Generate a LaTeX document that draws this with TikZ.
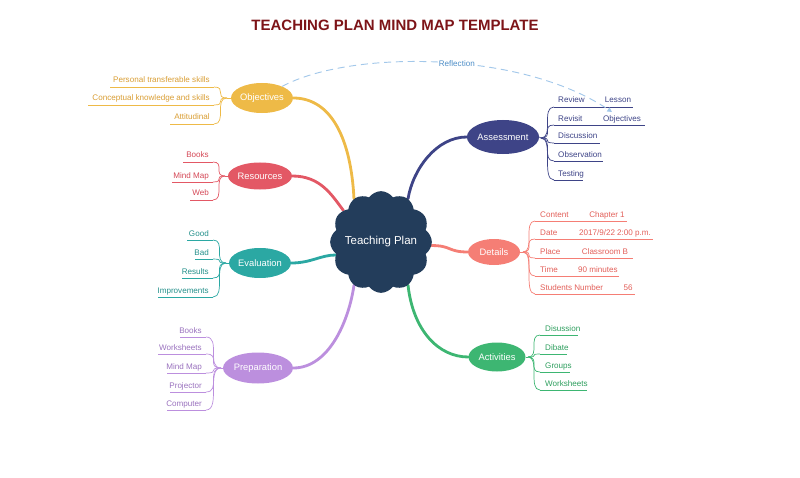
\documentclass[tikz,border=0pt]{standalone}
\usepackage{fontspec}
\setmainfont{Liberation Sans}
\usetikzlibrary{shapes.geometric,shapes.symbols,arrows.meta,backgrounds}

\definecolor{titleC}{HTML}{7D1418}
\definecolor{cloudC}{HTML}{233D5B}
\definecolor{objC}{HTML}{EEBA47}
\definecolor{objT}{HTML}{D99E35}
\definecolor{resC}{HTML}{E35865}
\definecolor{resT}{HTML}{D44856}
\definecolor{evaC}{HTML}{2BA8A3}
\definecolor{evaT}{HTML}{25908B}
\definecolor{preC}{HTML}{BC8FDE}
\definecolor{preT}{HTML}{9A72BE}
\definecolor{assC}{HTML}{3E4487}
\definecolor{detC}{HTML}{F57E75}
\definecolor{detT}{HTML}{E2605A}
\definecolor{actC}{HTML}{3DB672}
\definecolor{actT}{HTML}{2E9E5E}
\definecolor{refC}{HTML}{A3C8EA}
\definecolor{refT}{HTML}{4F8FC8}

\tikzset{
    branch/.style = {ellipse, fill=#1, text=white, inner sep=0pt, font=\fontsize{8}{9}\selectfont},
    leaf/.style = {inner sep=0pt, font=\fontsize{6.9}{8}\selectfont},
    twig/.style = {line width=0.6pt},
    trunk/.style = {line width=2.4pt, line cap=round}
}

\begin{document}
\begin{tikzpicture}[x=0.03cm, y=-0.03cm, line join=round]
    \useasboundingbox (0,0) rectangle (800,478);

    \node[font=\bfseries\fontsize{12.8}{14}\selectfont, text=titleC] (title) at (395,25) {TEACHING PLAN MIND MAP TEMPLATE};

    % centre and main branches
    \node[cloud, cloud puffs=12, cloud puff arc=110, aspect=1, fill=cloudC, minimum size=3.05cm,
          inner sep=0pt, text=white, font=\fontsize{9.8}{11}\selectfont] (tp) at (381,242) {\makebox[0pt]{Teaching Plan}};

    \node[branch=objC, minimum width=1.86cm, minimum height=0.9cm] (obj) at (262,98) {Objectives};
    \node[branch=resC, minimum width=1.92cm, minimum height=0.81cm] (res) at (260,176) {Resources};
    \node[branch=evaC, minimum width=1.86cm, minimum height=0.9cm] (eva) at (260,263) {Evaluation};
    \node[branch=preC, minimum width=2.1cm, minimum height=0.93cm] (pre) at (258,368) {Preparation};
    \node[branch=assC, minimum width=2.07cm, minimum height=1.02cm] (ass) at (503,137) {Assessment};
    \node[branch=detC, minimum width=1.56cm, minimum height=0.78cm] (det) at (494,252) {Details};
    \node[branch=actC, minimum width=1.71cm, minimum height=0.87cm] (act) at (497,357) {Activities};

    \begin{scope}[on background layer]
        \draw[trunk, objC] (obj.east) .. controls +(38,0) and +(-3,-60) .. (tp.122);
        \draw[trunk, resC] (res.east) .. controls +(28,0) and +(-12,-16) .. (tp.140);
        \draw[trunk, evaC] (eva.east) .. controls +(20,0) and +(-15,0) .. (tp.196);
        \draw[trunk, preC] (pre.east) .. controls +(36,0) and +(-5,35) .. (tp.238);
        \draw[trunk, assC] (ass.west) .. controls +(-30,0) and +(5,-30) .. (tp.58);
        \draw[trunk, detC] (tp.356) .. controls +(20,0) and +(-20,0) .. (det.west);
        \draw[trunk, actC] (tp.302) .. controls +(5,45) and +(-30,0) .. (act.west);
    \end{scope}

    % Objectives
    \coordinate (objF) at (227,98);
    \draw[twig, objC] (obj.west) -- (objF);
    \foreach \n/\y/\x/\t in {o1/87/110/Personal transferable skills, o2/105/88/Conceptual knowledge and skills, o3/124/170/Attitudinal}{
        \coordinate (\n a) at (214,\y);
        \coordinate (\n b) at (\x,\y);
        \node[leaf, text=objT, anchor=base east] (\n) at (210,\y-4) {\t};
        \draw[twig, objC] (\n b) -- (\n a);
        \draw[twig, objC] (objF) .. controls +(-13,0) and +(13,0) .. (\n a);
    }

    % Resources
    \coordinate (resF) at (225,176);
    \draw[twig, resC] (res.west) -- (resF);
    \foreach \n/\y/\x/\t in {r1/162/183/Books, r2/182/172/Mind Map, r3/200/190/Web}{
        \coordinate (\n a) at (213,\y);
        \coordinate (\n b) at (\x,\y);
        \node[leaf, text=resT, anchor=base east] (\n) at (209,\y-4) {\t};
        \draw[twig, resC] (\n b) -- (\n a);
        \draw[twig, resC] (resF) .. controls +(-12,0) and +(12,0) .. (\n a);
    }

    % Evaluation
    \coordinate (evaF) at (226,263);
    \draw[twig, evaC] (eva.west) -- (evaF);
    \foreach \n/\y/\x/\t in {e1/240/187/Good, e2/259/195/Bad, e3/278/182/Results, e4/297/158/Improvements}{
        \coordinate (\n a) at (213,\y);
        \coordinate (\n b) at (\x,\y);
        \node[leaf, text=evaT, anchor=base east] (\n) at (209,\y-4) {\t};
        \draw[twig, evaC] (\n b) -- (\n a);
        \draw[twig, evaC] (evaF) .. controls +(-13,0) and +(13,0) .. (\n a);
    }

    % Preparation
    \coordinate (preF) at (221,368);
    \draw[twig, preC] (pre.west) -- (preF);
    \foreach \n/\y/\x/\t in {p1/337/180/Books, p2/354/158/Worksheets, p3/373/167/Mind Map, p4/392/170/Projector, p5/410/167/Computer}{
        \coordinate (\n a) at (206,\y);
        \coordinate (\n b) at (\x,\y);
        \node[leaf, text=preT, anchor=base east] (\n) at (202,\y-4) {\t};
        \draw[twig, preC] (\n b) -- (\n a);
        \draw[twig, preC] (preF) .. controls +(-15,0) and +(15,0) .. (\n a);
    }

    % Assessment
    \coordinate (assF) at (541,138);
    \draw[twig, assC] (ass.east) -- (assF);
    \foreach \n/\y/\x/\t in {s1/107/633/Review, s2/125/645/Revisit, s3/143/600/Discussion, s4/161/603/Observation, s5/180/583/Testing}{
        \coordinate (\n a) at (554,\y);
        \coordinate (\n b) at (\x,\y);
        \node[leaf, text=assC, anchor=base west] (\n) at (558,\y-4) {\t};
        \draw[twig, assC] (\n a) -- (\n b);
        \draw[twig, assC] (assF) .. controls +(13,0) and +(-13,0) .. (\n a);
    }
    \node[leaf, text=assC, anchor=base] (lesson) at (618,103) {Lesson};
    \node[leaf, text=assC, anchor=base] (lessonobj) at (622,121) {Objectives};

    % Details
    \coordinate (detF) at (523,252);
    \draw[twig, detC] (det.east) -- (detF);
    \foreach \n/\y/\x/\t/\u/\c in {d1/221/627/Content/Chapter 1/607, d2/239/653/Date/{2017/9/22 2:00 p.m.}/615,
            d3/258/633/Place/Classroom B/605, d4/276/619/Time/90 minutes/598, d5/294/635/Students Number/56/628}{
        \coordinate (\n a) at (535,\y);
        \coordinate (\n b) at (\x,\y);
        \node[leaf, text=detT, anchor=base west] (\n) at (540,\y-4) {\t};
        \node[leaf, text=detT, anchor=base] (\n v) at (\c,\y-4) {\u};
        \draw[twig, detC] (\n a) -- (\n b);
        \draw[twig, detC] (detF) .. controls +(12,0) and +(-12,0) .. (\n a);
    }

    % Activities
    \coordinate (actF) at (528,357);
    \draw[twig, actC] (act.east) -- (actF);
    \foreach \n/\y/\x/\t in {c1/335/578/Disussion, c2/354/567/Dibate, c3/372/570/Groups, c4/390/587/Worksheets}{
        \coordinate (\n a) at (540,\y);
        \coordinate (\n b) at (\x,\y);
        \node[leaf, text=actT, anchor=base west] (\n) at (545,\y-4) {\t};
        \draw[twig, actC] (\n a) -- (\n b);
        \draw[twig, actC] (actF) .. controls +(12,0) and +(-12,0) .. (\n a);
    }

    % reflection link
    \coordinate (rtip) at (612,112);
    \draw[refC, line width=0.8pt, dash pattern=on 6pt off 4pt, -{Triangle[length=4pt, width=4pt]}]
        (obj.30) .. controls (350,50) and (520,50) .. node[pos=0.55, fill=white, inner sep=1pt, text=refT, font=\fontsize{6.9}{8}\selectfont] (refl) {Reflection} (rtip);

\end{tikzpicture}
\end{document}
